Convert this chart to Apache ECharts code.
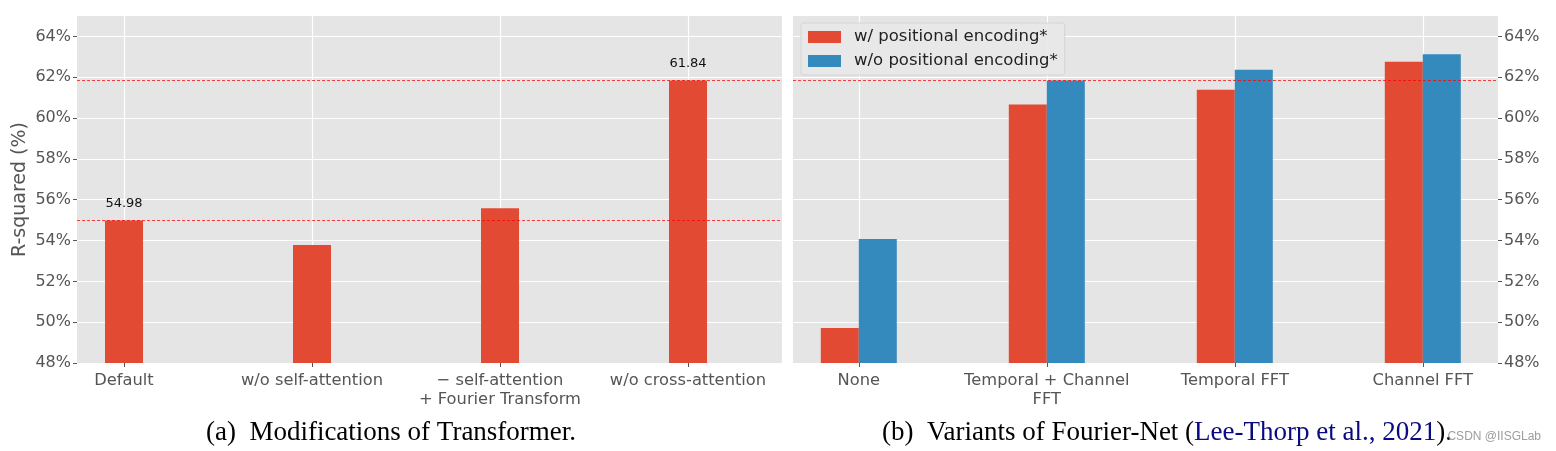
<!DOCTYPE html>
<html>
<head>
<meta charset="utf-8">
<script src="https://cdn.jsdelivr.net/npm/echarts@6/dist/echarts.min.js"></script>
<style>
html,body{margin:0;padding:0;background:#fff;}
#chart{width:1556px;height:451px;}
</style>
</head>
<body>
<div id="chart"></div>
<script>
// ---- data ----
const categoriesA = ['Default', 'w/o self-attention', '\u2212 self-attention\n+ Fourier Transform', 'w/o cross-attention'];
const valuesA = [54.98, 53.78, 55.58, 61.84];
const annotatedA = [true, false, false, true];
const categoriesB = ['None', 'Temporal + Channel\nFFT', 'Temporal FFT', 'Channel FFT'];
const withPE = [49.72, 60.66, 61.39, 62.76];
const withoutPE = [54.07, 61.84, 62.37, 63.12];
const seriesNames = ['w/ positional encoding*', 'w/o positional encoding*'];
const yTicks = [48, 50, 52, 54, 56, 58, 60, 62, 64];
const refLinesA = [54.98, 61.84];
const refLinesB = [61.84];
const yAxisTitle = 'R-squared (%)';
const captionA = '(a)  Modifications of Transformer.';
const captionB = ['(b)  Variants of Fourier-Net (', 'Lee-Thorp et al., 2021', ').'];
const watermark = 'CSDN @IISGLab';

// ---- styles ----
const RED = '#E24A33', BLUE = '#348ABD';
const FONT = 'DejaVu Sans';
const tickColor = '#555555';
const catIdx = [0, 1, 2, 3];

function xAxis(gridIndex, cats, min, max) {
  return {
    type: 'value', gridIndex, min, max,
    axisLine: {show: false, onZero: false},
    axisTick: {show: true, length: 4, customValues: catIdx, lineStyle: {color: tickColor}},
    axisLabel: {
      customValues: catIdx, margin: 8, color: tickColor, fontFamily: FONT, fontSize: 16.3, lineHeight: 19,
      formatter: v => cats[v] || ''
    },
    splitLine: {show: true, lineStyle: {color: '#ffffff', width: 1.2}}
  };
}
function yAxis(gridIndex, position, withName) {
  const a = {
    type: 'value', gridIndex, position, min: 48, max: 65,
    axisLine: {show: false, onZero: false},
    axisTick: {show: true, length: 4, customValues: yTicks, lineStyle: {color: tickColor}},
    axisLabel: {customValues: yTicks, margin: 6, color: tickColor, fontFamily: FONT, fontSize: 16, formatter: '{value}%'},
    splitLine: {show: true, lineStyle: {color: '#ffffff', width: 1.2}}
  };
  if (withName) {
    Object.assign(a, {name: yAxisTitle, nameLocation: 'middle', nameRotate: 90, nameGap: 47,
      nameTextStyle: {color: tickColor, fontFamily: FONT, fontSize: 19}});
  }
  return a;
}
function refMark(vals) {
  return {
    silent: true, symbol: 'none', animation: false,
    label: {show: false},
    lineStyle: {color: 'rgba(255,0,0,0.75)', type: [3, 2], width: 1},
    data: vals.map(v => ({yAxis: v}))
  };
}

const chart = echarts.init(document.getElementById('chart'), null, {renderer: 'canvas'});
chart.setOption({
  backgroundColor: '#ffffff',
  animation: false,
  grid: [
    {left: 77, right: 774, top: 16, bottom: 88, show: true, backgroundColor: '#E5E5E5', borderWidth: 0},
    {left: 793, right: 58, top: 16, bottom: 88, show: true, backgroundColor: '#E5E5E5', borderWidth: 0}
  ],
  xAxis: [xAxis(0, categoriesA, -0.25, 3.5), xAxis(1, categoriesB, -0.35, 3.4)],
  yAxis: [yAxis(0, 'left', true), yAxis(1, 'right', false)],
  legend: {
    data: seriesNames, orient: 'vertical', left: 801, top: 23,
    itemWidth: 33, itemHeight: 12, itemGap: 6,
    padding: [5, 7, 5, 7],
    backgroundColor: 'rgba(232,232,232,0.9)', borderColor: '#d4d4d4', borderWidth: 1, borderRadius: 3,
    textStyle: {fontFamily: FONT, fontSize: 16.5, color: '#222', lineHeight: 18, padding: [0, 0, 0, 8]},
    icon: 'rect'
  },
  series: [
    {
      type: 'bar', xAxisIndex: 0, yAxisIndex: 0, barWidth: 38, itemStyle: {color: RED},
      data: valuesA.map((v, i) => ({value: [i, v], label: {show: annotatedA[i]}})),
      label: {position: 'top', distance: 10, color: '#111', fontFamily: FONT, fontSize: 13, formatter: p => p.value[1].toFixed(2)},
      markLine: refMark(refLinesA)
    },
    {
      name: seriesNames[0], type: 'bar', xAxisIndex: 1, yAxisIndex: 1, barWidth: 38, barGap: '0%',
      itemStyle: {color: RED},
      data: withPE.map((v, i) => [i, v])
    },
    {
      name: seriesNames[1], type: 'bar', xAxisIndex: 1, yAxisIndex: 1, barWidth: 38, barGap: '0%',
      itemStyle: {color: BLUE},
      data: withoutPE.map((v, i) => [i, v]),
      markLine: refMark(refLinesB)
    }
  ],
  graphic: [
    {type: 'text', x: 391, y: 433, style: {text: captionA, font: '27px "Liberation Serif"', fill: '#000', align: 'center', verticalAlign: 'middle'}},
    {type: 'text', x: 1167, y: 433, style: {
      text: '{k|' + captionB[0] + '}{b|' + captionB[1] + '}{k|' + captionB[2] + '}',
      align: 'center', verticalAlign: 'middle',
      rich: {k: {font: '27px "Liberation Serif"', fill: '#000'}, b: {font: '27px "Liberation Serif"', fill: '#0a0a80'}}
    }},
    {type: 'text', right: 15, y: 431, style: {text: watermark, font: '12px "Liberation Sans"', fill: 'rgba(140,140,140,0.85)'}}
  ]
});
</script>
</body>
</html>
